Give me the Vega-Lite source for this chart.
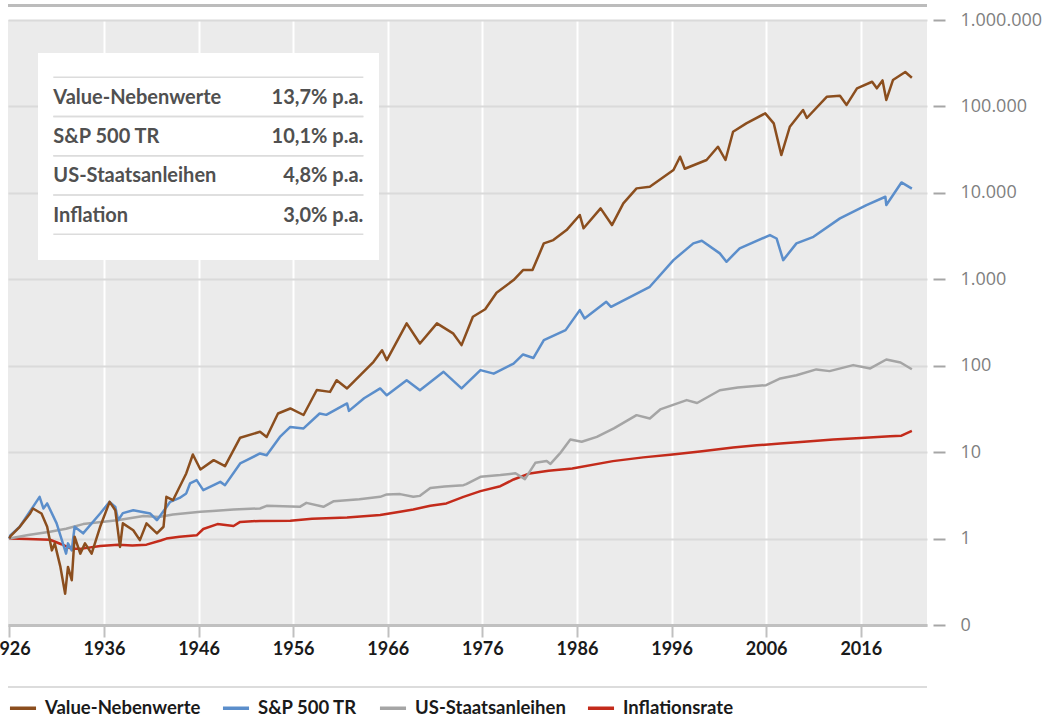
{
"$schema": "https://vega.github.io/schema/vega-lite/v6.json",
"width": 919, "height": 605,
"autosize": {"type": "none"},
"padding": {"left": 8, "top": 20, "right": 119, "bottom": 97},
"background": "white",
"config": {"view": {"fill": "#ebebeb", "stroke": null}, "font": "Lato"},
"datasets": {
"table": [
{"label": "Value-Nebenwerte", "rate": "13,7% p.a."},
{"label": "S&P 500 TR", "rate": "10,1% p.a."},
{"label": "US-Staatsanleihen", "rate": "4,8% p.a."},
{"label": "Inflation", "rate": "3,0% p.a."}
],
"series": [
{"series":"Inflationsrate","year":1926.0,"value":1.0},
{"series":"Inflationsrate","year":1928.0,"value":0.99},
{"series":"Inflationsrate","year":1930.3,"value":0.97},
{"series":"Inflationsrate","year":1931.5,"value":0.86},
{"series":"Inflationsrate","year":1932.6,"value":0.76},
{"series":"Inflationsrate","year":1933.5,"value":0.76},
{"series":"Inflationsrate","year":1935.6,"value":0.82},
{"series":"Inflationsrate","year":1937.5,"value":0.85},
{"series":"Inflationsrate","year":1939.0,"value":0.83},
{"series":"Inflationsrate","year":1940.5,"value":0.85},
{"series":"Inflationsrate","year":1942.0,"value":0.95},
{"series":"Inflationsrate","year":1942.6,"value":1.0},
{"series":"Inflationsrate","year":1944.0,"value":1.05},
{"series":"Inflationsrate","year":1945.8,"value":1.09},
{"series":"Inflationsrate","year":1946.5,"value":1.29},
{"series":"Inflationsrate","year":1948.0,"value":1.47},
{"series":"Inflationsrate","year":1949.7,"value":1.40},
{"series":"Inflationsrate","year":1950.4,"value":1.56},
{"series":"Inflationsrate","year":1952.5,"value":1.60},
{"series":"Inflationsrate","year":1955.7,"value":1.61},
{"series":"Inflationsrate","year":1958.0,"value":1.70},
{"series":"Inflationsrate","year":1961.7,"value":1.75},
{"series":"Inflationsrate","year":1965.2,"value":1.87},
{"series":"Inflationsrate","year":1967.3,"value":2.04},
{"series":"Inflationsrate","year":1968.7,"value":2.17},
{"series":"Inflationsrate","year":1970.5,"value":2.40},
{"series":"Inflationsrate","year":1972.2,"value":2.55},
{"series":"Inflationsrate","year":1974.0,"value":3.04},
{"series":"Inflationsrate","year":1975.8,"value":3.54},
{"series":"Inflationsrate","year":1977.9,"value":4.04},
{"series":"Inflationsrate","year":1979.3,"value":4.83},
{"series":"Inflationsrate","year":1981.0,"value":5.67},
{"series":"Inflationsrate","year":1983.0,"value":6.1},
{"series":"Inflationsrate","year":1985.5,"value":6.48},
{"series":"Inflationsrate","year":1989.8,"value":7.87},
{"series":"Inflationsrate","year":1993.0,"value":8.7},
{"series":"Inflationsrate","year":1996.1,"value":9.4},
{"series":"Inflationsrate","year":1999.0,"value":10.2},
{"series":"Inflationsrate","year":2002.5,"value":11.3},
{"series":"Inflationsrate","year":2005.0,"value":12.0},
{"series":"Inflationsrate","year":2007.5,"value":12.6},
{"series":"Inflationsrate","year":2010.0,"value":13.2},
{"series":"Inflationsrate","year":2013.1,"value":14.0},
{"series":"Inflationsrate","year":2016.0,"value":14.6},
{"series":"Inflationsrate","year":2019.1,"value":15.3},
{"series":"Inflationsrate","year":2020.3,"value":15.5},
{"series":"Inflationsrate","year":2021.4,"value":17.6},
{"series":"US-Staatsanleihen","year":1926.0,"value":1.0},
{"series":"US-Staatsanleihen","year":1928.0,"value":1.1},
{"series":"US-Staatsanleihen","year":1930.3,"value":1.2},
{"series":"US-Staatsanleihen","year":1932.0,"value":1.3},
{"series":"US-Staatsanleihen","year":1933.8,"value":1.47},
{"series":"US-Staatsanleihen","year":1937.4,"value":1.63},
{"series":"US-Staatsanleihen","year":1940.2,"value":1.82},
{"series":"US-Staatsanleihen","year":1941.8,"value":1.78},
{"series":"US-Staatsanleihen","year":1943.3,"value":1.9},
{"series":"US-Staatsanleihen","year":1946.2,"value":2.04},
{"series":"US-Staatsanleihen","year":1947.5,"value":2.09},
{"series":"US-Staatsanleihen","year":1949.7,"value":2.17},
{"series":"US-Staatsanleihen","year":1952.5,"value":2.23},
{"series":"US-Staatsanleihen","year":1953.2,"value":2.39},
{"series":"US-Staatsanleihen","year":1956.7,"value":2.33},
{"series":"US-Staatsanleihen","year":1957.4,"value":2.59},
{"series":"US-Staatsanleihen","year":1959.2,"value":2.33},
{"series":"US-Staatsanleihen","year":1960.3,"value":2.71},
{"series":"US-Staatsanleihen","year":1963.0,"value":2.85},
{"series":"US-Staatsanleihen","year":1965.2,"value":3.04},
{"series":"US-Staatsanleihen","year":1965.9,"value":3.24},
{"series":"US-Staatsanleihen","year":1967.3,"value":3.27},
{"series":"US-Staatsanleihen","year":1968.7,"value":3.04},
{"series":"US-Staatsanleihen","year":1969.4,"value":3.12},
{"series":"US-Staatsanleihen","year":1970.5,"value":3.85},
{"series":"US-Staatsanleihen","year":1972.0,"value":4.0},
{"series":"US-Staatsanleihen","year":1974.0,"value":4.15},
{"series":"US-Staatsanleihen","year":1974.3,"value":4.26},
{"series":"US-Staatsanleihen","year":1975.8,"value":5.18},
{"series":"US-Staatsanleihen","year":1977.9,"value":5.43},
{"series":"US-Staatsanleihen","year":1979.5,"value":5.7},
{"series":"US-Staatsanleihen","year":1980.5,"value":4.87},
{"series":"US-Staatsanleihen","year":1981.6,"value":7.52},
{"series":"US-Staatsanleihen","year":1982.8,"value":7.9},
{"series":"US-Staatsanleihen","year":1983.2,"value":7.3},
{"series":"US-Staatsanleihen","year":1984.2,"value":9.66},
{"series":"US-Staatsanleihen","year":1985.3,"value":14.0},
{"series":"US-Staatsanleihen","year":1986.5,"value":13.2},
{"series":"US-Staatsanleihen","year":1988.1,"value":15.0},
{"series":"US-Staatsanleihen","year":1989.9,"value":18.8},
{"series":"US-Staatsanleihen","year":1992.3,"value":26.8},
{"series":"US-Staatsanleihen","year":1993.7,"value":24.5},
{"series":"US-Staatsanleihen","year":1994.8,"value":31.2},
{"series":"US-Staatsanleihen","year":1997.6,"value":40},
{"series":"US-Staatsanleihen","year":1998.7,"value":37},
{"series":"US-Staatsanleihen","year":2001.1,"value":52},
{"series":"US-Staatsanleihen","year":2003.0,"value":56},
{"series":"US-Staatsanleihen","year":2006.0,"value":59.6},
{"series":"US-Staatsanleihen","year":2007.5,"value":71.3},
{"series":"US-Staatsanleihen","year":2009.2,"value":77.7},
{"series":"US-Staatsanleihen","year":2011.3,"value":90.6},
{"series":"US-Staatsanleihen","year":2012.7,"value":86.6},
{"series":"US-Staatsanleihen","year":2015.2,"value":101.6},
{"series":"US-Staatsanleihen","year":2017.0,"value":93},
{"series":"US-Staatsanleihen","year":2018.7,"value":118},
{"series":"US-Staatsanleihen","year":2020.2,"value":109},
{"series":"US-Staatsanleihen","year":2021.4,"value":91},
{"series":"S&P 500 TR","year":1926.0,"value":1.0},
{"series":"S&P 500 TR","year":1926.1,"value":1.09},
{"series":"S&P 500 TR","year":1927.1,"value":1.37},
{"series":"S&P 500 TR","year":1928.5,"value":2.33},
{"series":"S&P 500 TR","year":1929.2,"value":3.04},
{"series":"S&P 500 TR","year":1929.6,"value":2.23},
{"series":"S&P 500 TR","year":1930.0,"value":2.55},
{"series":"S&P 500 TR","year":1931.0,"value":1.5},
{"series":"S&P 500 TR","year":1932.0,"value":0.67},
{"series":"S&P 500 TR","year":1932.2,"value":0.88},
{"series":"S&P 500 TR","year":1932.6,"value":0.73},
{"series":"S&P 500 TR","year":1932.9,"value":1.37},
{"series":"S&P 500 TR","year":1933.8,"value":1.15},
{"series":"S&P 500 TR","year":1935.6,"value":1.95},
{"series":"S&P 500 TR","year":1936.6,"value":2.66},
{"series":"S&P 500 TR","year":1937.2,"value":2.33},
{"series":"S&P 500 TR","year":1937.5,"value":1.63},
{"series":"S&P 500 TR","year":1938.0,"value":1.97},
{"series":"S&P 500 TR","year":1939.1,"value":2.13},
{"series":"S&P 500 TR","year":1940.9,"value":1.95},
{"series":"S&P 500 TR","year":1941.6,"value":1.63},
{"series":"S&P 500 TR","year":1942.5,"value":2.23},
{"series":"S&P 500 TR","year":1943.0,"value":2.66},
{"series":"S&P 500 TR","year":1944.0,"value":2.95},
{"series":"S&P 500 TR","year":1944.7,"value":3.33},
{"series":"S&P 500 TR","year":1945.1,"value":4.34},
{"series":"S&P 500 TR","year":1945.8,"value":4.74},
{"series":"S&P 500 TR","year":1946.5,"value":3.63},
{"series":"S&P 500 TR","year":1948.3,"value":4.53},
{"series":"S&P 500 TR","year":1948.8,"value":4.15},
{"series":"S&P 500 TR","year":1950.4,"value":7.4},
{"series":"S&P 500 TR","year":1951.1,"value":8.08},
{"series":"S&P 500 TR","year":1952.5,"value":9.66},
{"series":"S&P 500 TR","year":1953.2,"value":9.2},
{"series":"S&P 500 TR","year":1954.6,"value":15.0},
{"series":"S&P 500 TR","year":1955.7,"value":19.6},
{"series":"S&P 500 TR","year":1957.1,"value":18.8},
{"series":"S&P 500 TR","year":1958.8,"value":28},
{"series":"S&P 500 TR","year":1959.5,"value":27},
{"series":"S&P 500 TR","year":1961.7,"value":36.6},
{"series":"S&P 500 TR","year":1961.9,"value":30},
{"series":"S&P 500 TR","year":1963.5,"value":42},
{"series":"S&P 500 TR","year":1965.2,"value":54.6},
{"series":"S&P 500 TR","year":1965.9,"value":45.5},
{"series":"S&P 500 TR","year":1968.0,"value":68},
{"series":"S&P 500 TR","year":1969.4,"value":52},
{"series":"S&P 500 TR","year":1971.9,"value":85},
{"series":"S&P 500 TR","year":1973.8,"value":54.6},
{"series":"S&P 500 TR","year":1975.8,"value":89},
{"series":"S&P 500 TR","year":1977.2,"value":81},
{"series":"S&P 500 TR","year":1979.3,"value":106},
{"series":"S&P 500 TR","year":1980.3,"value":135},
{"series":"S&P 500 TR","year":1981.4,"value":123},
{"series":"S&P 500 TR","year":1982.5,"value":198},
{"series":"S&P 500 TR","year":1984.8,"value":258},
{"series":"S&P 500 TR","year":1986.3,"value":440},
{"series":"S&P 500 TR","year":1986.8,"value":352},
{"series":"S&P 500 TR","year":1989.1,"value":549},
{"series":"S&P 500 TR","year":1989.6,"value":480},
{"series":"S&P 500 TR","year":1993.7,"value":819},
{"series":"S&P 500 TR","year":1996.2,"value":1667},
{"series":"S&P 500 TR","year":1998.3,"value":2604},
{"series":"S&P 500 TR","year":1999.2,"value":2790},
{"series":"S&P 500 TR","year":2001.1,"value":1995},
{"series":"S&P 500 TR","year":2001.8,"value":1595},
{"series":"S&P 500 TR","year":2003.2,"value":2278},
{"series":"S&P 500 TR","year":2006.4,"value":3250},
{"series":"S&P 500 TR","year":2007.1,"value":2965},
{"series":"S&P 500 TR","year":2007.8,"value":1667},
{"series":"S&P 500 TR","year":2009.2,"value":2604},
{"series":"S&P 500 TR","year":2011.0,"value":3100},
{"series":"S&P 500 TR","year":2013.8,"value":5070},
{"series":"S&P 500 TR","year":2016.6,"value":7225},
{"series":"S&P 500 TR","year":2018.6,"value":9016},
{"series":"S&P 500 TR","year":2018.7,"value":7225},
{"series":"S&P 500 TR","year":2020.3,"value":13200},
{"series":"S&P 500 TR","year":2021.4,"value":11200},
{"series":"Value-Nebenwerte","year":1926.0,"value":1.0},
{"series":"Value-Nebenwerte","year":1926.1,"value":1.06},
{"series":"Value-Nebenwerte","year":1927.1,"value":1.37},
{"series":"Value-Nebenwerte","year":1928.2,"value":1.95},
{"series":"Value-Nebenwerte","year":1928.5,"value":2.23},
{"series":"Value-Nebenwerte","year":1928.9,"value":2.1},
{"series":"Value-Nebenwerte","year":1929.4,"value":1.95},
{"series":"Value-Nebenwerte","year":1930.0,"value":1.37},
{"series":"Value-Nebenwerte","year":1930.5,"value":0.73},
{"series":"Value-Nebenwerte","year":1930.8,"value":0.88},
{"series":"Value-Nebenwerte","year":1931.4,"value":0.47},
{"series":"Value-Nebenwerte","year":1931.9,"value":0.23},
{"series":"Value-Nebenwerte","year":1932.2,"value":0.47},
{"series":"Value-Nebenwerte","year":1932.6,"value":0.33},
{"series":"Value-Nebenwerte","year":1932.9,"value":1.05},
{"series":"Value-Nebenwerte","year":1933.5,"value":0.67},
{"series":"Value-Nebenwerte","year":1934.0,"value":0.88},
{"series":"Value-Nebenwerte","year":1934.7,"value":0.67},
{"series":"Value-Nebenwerte","year":1935.6,"value":1.37},
{"series":"Value-Nebenwerte","year":1936.6,"value":2.66},
{"series":"Value-Nebenwerte","year":1937.2,"value":2.13},
{"series":"Value-Nebenwerte","year":1937.7,"value":0.8},
{"series":"Value-Nebenwerte","year":1938.0,"value":1.5},
{"series":"Value-Nebenwerte","year":1939.1,"value":1.25},
{"series":"Value-Nebenwerte","year":1939.8,"value":0.96},
{"series":"Value-Nebenwerte","year":1940.5,"value":1.5},
{"series":"Value-Nebenwerte","year":1941.6,"value":1.15},
{"series":"Value-Nebenwerte","year":1942.3,"value":1.37},
{"series":"Value-Nebenwerte","year":1942.6,"value":3.04},
{"series":"Value-Nebenwerte","year":1943.3,"value":2.78},
{"series":"Value-Nebenwerte","year":1944.7,"value":5.67},
{"series":"Value-Nebenwerte","year":1945.4,"value":9.4},
{"series":"Value-Nebenwerte","year":1946.2,"value":6.3},
{"series":"Value-Nebenwerte","year":1947.6,"value":8.08},
{"series":"Value-Nebenwerte","year":1948.8,"value":6.9},
{"series":"Value-Nebenwerte","year":1950.4,"value":14.7},
{"series":"Value-Nebenwerte","year":1952.5,"value":17.2},
{"series":"Value-Nebenwerte","year":1953.2,"value":15.0},
{"series":"Value-Nebenwerte","year":1954.4,"value":28},
{"series":"Value-Nebenwerte","year":1955.7,"value":32},
{"series":"Value-Nebenwerte","year":1957.1,"value":26.9},
{"series":"Value-Nebenwerte","year":1958.5,"value":52.4},
{"series":"Value-Nebenwerte","year":1959.9,"value":49.8},
{"series":"Value-Nebenwerte","year":1960.6,"value":68},
{"series":"Value-Nebenwerte","year":1961.7,"value":54.6},
{"series":"Value-Nebenwerte","year":1963.1,"value":78},
{"series":"Value-Nebenwerte","year":1964.5,"value":111},
{"series":"Value-Nebenwerte","year":1965.4,"value":151},
{"series":"Value-Nebenwerte","year":1965.9,"value":116},
{"series":"Value-Nebenwerte","year":1968.0,"value":309},
{"series":"Value-Nebenwerte","year":1969.4,"value":181},
{"series":"Value-Nebenwerte","year":1971.2,"value":309},
{"series":"Value-Nebenwerte","year":1972.9,"value":237},
{"series":"Value-Nebenwerte","year":1973.8,"value":173},
{"series":"Value-Nebenwerte","year":1975.0,"value":368},
{"series":"Value-Nebenwerte","year":1976.3,"value":450},
{"series":"Value-Nebenwerte","year":1977.5,"value":700},
{"series":"Value-Nebenwerte","year":1979.3,"value":980},
{"series":"Value-Nebenwerte","year":1980.3,"value":1277},
{"series":"Value-Nebenwerte","year":1981.3,"value":1277},
{"series":"Value-Nebenwerte","year":1982.5,"value":2604},
{"series":"Value-Nebenwerte","year":1983.5,"value":2843},
{"series":"Value-Nebenwerte","year":1984.9,"value":3710},
{"series":"Value-Nebenwerte","year":1986.3,"value":5540},
{"series":"Value-Nebenwerte","year":1986.7,"value":3890},
{"series":"Value-Nebenwerte","year":1988.5,"value":6610},
{"series":"Value-Nebenwerte","year":1989.7,"value":4240},
{"series":"Value-Nebenwerte","year":1990.9,"value":7550},
{"series":"Value-Nebenwerte","year":1992.3,"value":11270},
{"series":"Value-Nebenwerte","year":1993.7,"value":11750},
{"series":"Value-Nebenwerte","year":1996.2,"value":18360},
{"series":"Value-Nebenwerte","year":1996.9,"value":26200},
{"series":"Value-Nebenwerte","year":1997.4,"value":19000},
{"series":"Value-Nebenwerte","year":1999.7,"value":24000},
{"series":"Value-Nebenwerte","year":2000.9,"value":34200},
{"series":"Value-Nebenwerte","year":2001.7,"value":24000},
{"series":"Value-Nebenwerte","year":2002.5,"value":50900},
{"series":"Value-Nebenwerte","year":2003.9,"value":63700},
{"series":"Value-Nebenwerte","year":2005.9,"value":83200},
{"series":"Value-Nebenwerte","year":2006.8,"value":63700},
{"series":"Value-Nebenwerte","year":2007.6,"value":27400},
{"series":"Value-Nebenwerte","year":2008.5,"value":58200},
{"series":"Value-Nebenwerte","year":2009.9,"value":90800},
{"series":"Value-Nebenwerte","year":2010.3,"value":73500},
{"series":"Value-Nebenwerte","year":2012.4,"value":129000},
{"series":"Value-Nebenwerte","year":2013.8,"value":133000},
{"series":"Value-Nebenwerte","year":2014.5,"value":104000},
{"series":"Value-Nebenwerte","year":2015.6,"value":162000},
{"series":"Value-Nebenwerte","year":2017.2,"value":193000},
{"series":"Value-Nebenwerte","year":2017.7,"value":162000},
{"series":"Value-Nebenwerte","year":2018.3,"value":200000},
{"series":"Value-Nebenwerte","year":2018.7,"value":119000},
{"series":"Value-Nebenwerte","year":2019.4,"value":202000},
{"series":"Value-Nebenwerte","year":2020.7,"value":250000},
{"series":"Value-Nebenwerte","year":2021.4,"value":215000}
]
},
"layer": [
{
"layer": [
{
"data": {"name": "series"},
"mark": {"type": "line", "strokeWidth": 2.5, "strokeJoin": "round"},
"encoding": {
"x": {"field": "year", "type": "quantitative",
"scale": {"domain": [1925.86, 2023.0], "nice": false, "zero": false},
"axis": {"title": null, "orient": "bottom", "values": [1926,1936,1946,1956,1966,1976,1986,1996,2006,2016], "format": "d",
"domainColor": "#c0c0c0", "domainWidth": 3, "tickColor": "#c0c0c0", "tickWidth": 2, "tickSize": 12,
"labelFont": "Lato", "labelFontWeight": "bold", "labelFontSize": 18, "labelColor": "#1a1a1a", "labelPadding": 3,
"labelFlush": false, "labelOverlap": false,
"grid": true, "gridWidth": 2,
"gridColor": {"condition": {"test": "datum.value == 1926", "value": "transparent"}, "value": "#ffffff"}}},
"y": {"field": "value", "type": "quantitative",
"scale": {"type": "log", "domain": [0.1, 1000000], "nice": false},
"axis": {"title": null, "orient": "right", "values": [0.1,1,10,100,1000,10000,100000,1000000],
"labelExpr": "datum.value < 1 ? '0' : replace(format(datum.value, ',.0f'), regexp(',', 'g'), '.')",
"offset": 6, "domain": false, "tickColor": "#a6a6a6", "tickWidth": 2, "tickSize": 12, "labelPadding": 15,
"labelFont": "Open Sans", "labelFontSize": 18, "labelColor": "#7f7f7f",
"grid": true, "gridColor": "#dadada", "gridWidth": 2}},
"color": {"field": "series", "type": "nominal",
"scale": {"domain": ["Value-Nebenwerte", "S&P 500 TR", "US-Staatsanleihen", "Inflationsrate"],
"range": ["#8b4e1e", "#5b8ecb", "#a5a5a5", "#c32b1b"]},
"legend": {"title": null, "orient": "none", "legendX": 0, "legendY": 673, "direction": "horizontal", "padding": 0,
"symbolType": "stroke", "symbolStrokeWidth": 3.5, "symbolSize": 680,
"labelFont": "Lato", "labelFontWeight": "bold", "labelFontSize": 18.5, "labelColor": "#1a1a1a",
"columnPadding": 14, "labelOffset": 7}}
}
},
{
"data": {"values": [{}]},
"mark": {"type": "rule", "color": "#bcbcbc", "strokeWidth": 3},
"encoding": {"x": {"datum": 1925.86}, "x2": {"datum": 2023.0}, "y": {"datum": 1470000}}
},
{
"data": {"values": [{}]},
"mark": {"type": "rule", "color": "#dcdcdc", "strokeWidth": 2},
"encoding": {"x": {"datum": 1925.86}, "x2": {"datum": 2023.0}, "y": {"datum": 0.0192}}
},
{
"data": {"values": [{}]},
"mark": {"type": "rect", "color": "#ffffff"},
"encoding": {"x": {"datum": 1929.03}, "x2": {"datum": 1965.08}, "y": {"datum": 415000}, "y2": {"datum": 1667}}
}
]
},
{
"data": {"name": "table"},
"layer": [
{
"mark": {"type": "rule", "color": "#dcdcdc", "strokeWidth": 1.5},
"encoding": {
"y": {"field": "label", "type": "nominal", "bandPosition": 0,
"scale": {"type": "band", "domain": ["Value-Nebenwerte", "S&P 500 TR", "US-Staatsanleihen", "Inflation"], "range": [57.3, 214.3], "paddingInner": 0, "paddingOuter": 0},
"axis": null},
"x": {"datum": 1930.65}, "x2": {"datum": 1963.42}
}
},
{
"mark": {"type": "rule", "color": "#dcdcdc", "strokeWidth": 1.5},
"encoding": {
"y": {"field": "label", "type": "nominal", "bandPosition": 1},
"x": {"datum": 1930.65}, "x2": {"datum": 1963.42}
}
},
{
"mark": {"type": "text", "align": "left", "baseline": "middle", "font": "Lato", "fontWeight": "bold", "fontSize": 20, "color": "#505050", "dy": 1},
"encoding": {
"y": {"field": "label", "type": "nominal", "bandPosition": 0.5},
"x": {"datum": 1930.65},
"text": {"field": "label"}
}
},
{
"mark": {"type": "text", "align": "right", "baseline": "middle", "font": "Lato", "fontWeight": "bold", "fontSize": 20, "color": "#505050", "dy": 1},
"encoding": {
"y": {"field": "label", "type": "nominal", "bandPosition": 0.5},
"x": {"datum": 1963.42},
"text": {"field": "rate"}
}
}
]
}
],
"resolve": {"scale": {"y": "independent"}}
}
